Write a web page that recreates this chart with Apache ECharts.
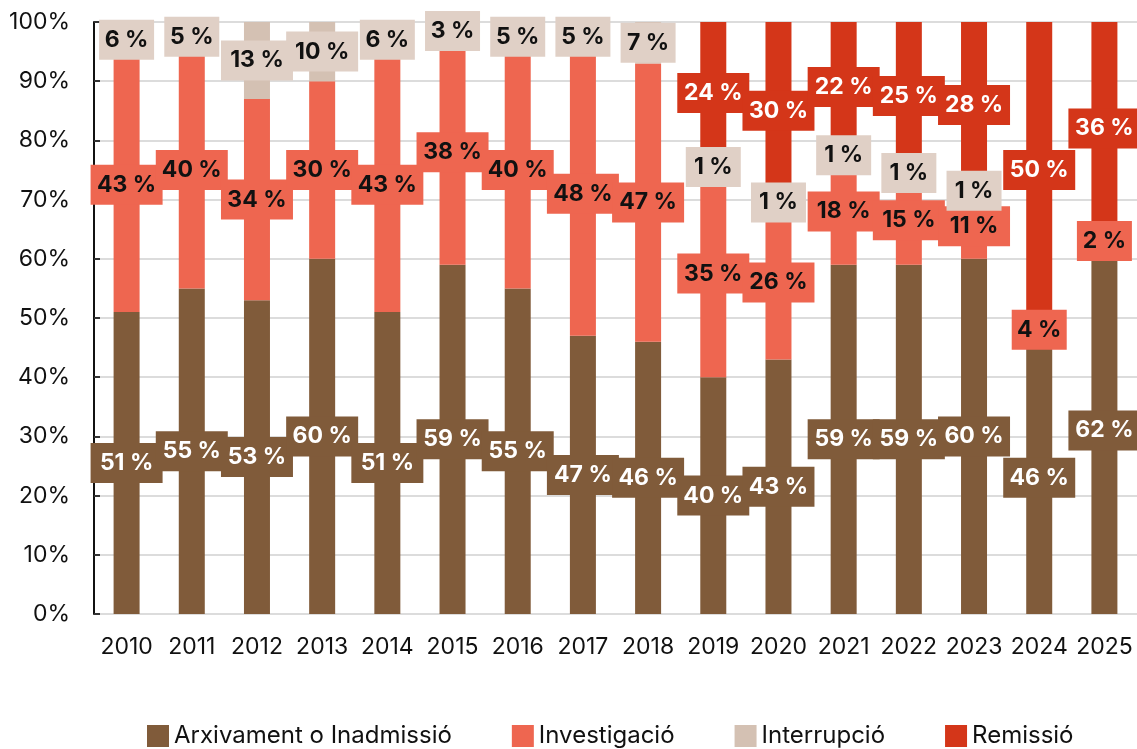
<!DOCTYPE html>
<html><head><meta charset="utf-8">
<script src="https://cdn.jsdelivr.net/npm/echarts@6/dist/echarts.min.js"></script>
<style>html,body{margin:0;padding:0;background:#fff}#c{width:1137px;height:749px}</style>
</head><body><div id="c"></div>
<script>
const years = ['2010','2011','2012','2013','2014','2015','2016','2017','2018','2019','2020','2021','2022','2023','2024','2025'];
const arxivament = [51,55,53,60,51,59,55,47,46,40,43,59,59,60,46,62];
const investigacio = [43,40,34,30,43,38,40,48,47,35,26,18,15,11,4,2];
const interrupcio = [6,5,13,10,6,3,5,5,7,1,1,1,1,1,0,0];
const remissio = [0,0,0,0,0,0,0,0,0,24,30,22,25,28,50,36];
const yTicks = [0,10,20,30,40,50,60,70,80,90,100];

const FONT = 'Inter';
function mk(name, arr, color, labelBg, labelColor) {
  return {
    name, type: 'bar', stack: 'all', barWidth: 26,
    itemStyle: {color},
    label: {
      show: true, position: 'inside',
      formatter: p => p.value + ' %',
      backgroundColor: labelBg, color: labelColor,
      fontFamily: FONT, fontWeight: 'bold', fontSize: 23,
      padding: [9, 7, 8, 7], lineHeight: 23, overflow: 'none', align: 'center'
    },
    data: arr.map(v => v === 0 ? {value: 0, label: {show: false}}
      : {value: v, label: {width: v >= 10 ? 58 : 41}})
  };
}
const chart = echarts.init(document.getElementById('c'));
chart.setOption({
  animation: false,
  textStyle: {fontFamily: FONT},
  grid: {left: 94, right: 0, top: 22, bottom: 135, containLabel: false},
  legend: {
    top: 724, left: 147, padding: 0, itemWidth: 22, itemHeight: 22, itemGap: 60,
    icon: 'rect',
    textStyle: {fontFamily: FONT, fontSize: 24, color: '#111'},
    data: ['Arxivament o Inadmissió','Investigació','Interrupció','Remissió']
  },
  xAxis: {
    type: 'category', data: years,
    axisLine: {show: false}, axisTick: {show: false},
    axisLabel: {interval: 0, fontFamily: FONT, fontSize: 23, color: '#111', margin: 22}
  },
  yAxis: {
    type: 'value', min: 0, max: 100, interval: 10,
    axisLine: {show: true, lineStyle: {color: '#111', width: 2}},
    axisTick: {show: true, inside: true, length: 6, lineStyle: {color: '#333', width: 2}},
    splitLine: {lineStyle: {color: '#dcdcdc', width: 2}},
    axisLabel: {fontFamily: FONT, fontSize: 23, color: '#111', margin: 24,
      formatter: v => yTicks.includes(v) ? v + '%' : ''}
  },
  series: [
    mk('Arxivament o Inadmissió', arxivament, '#805b3a', '#805b3a', '#ffffff'),
    mk('Investigació', investigacio, '#ee6650', '#ee6650', '#111111'),
    mk('Interrupció', interrupcio, '#d4c1b3', '#e0d0c6', '#111111'),
    mk('Remissió', remissio, '#d43619', '#d43619', '#ffffff')
  ]
});
</script></body></html>
